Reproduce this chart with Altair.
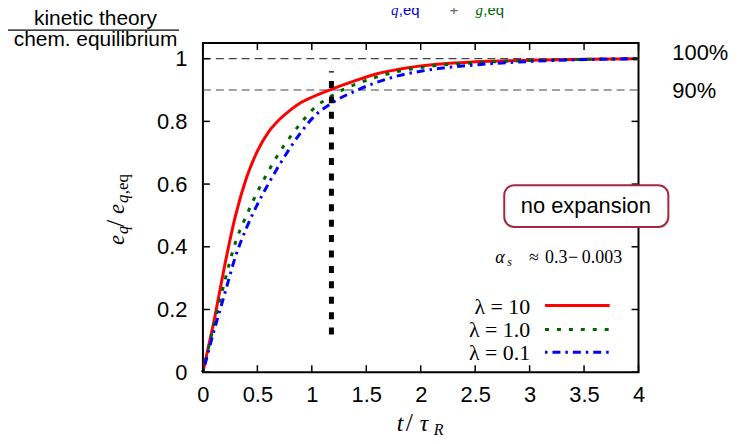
import altair as alt
import pandas as pd

# ---- data ----
t_vals = [0, 0.05, 0.1, 0.15, 0.2, 0.3, 0.4, 0.5, 0.6, 0.7, 0.8, 0.9, 1.0,
          1.2, 1.4, 1.6, 1.8, 2.0, 2.5, 3.0, 3.5, 4.0]
lam_10 = [0, 0.08, 0.16, 0.25, 0.34, 0.50, 0.62, 0.705, 0.765, 0.805, 0.835, 0.86, 0.877,
          0.905, 0.93, 0.952, 0.966, 0.977, 0.99, 0.995, 0.998, 1.0]
lam_1 = [0, 0.075, 0.15, 0.22, 0.29, 0.415, 0.50, 0.575, 0.64, 0.70, 0.75, 0.795, 0.835,
         0.885, 0.918, 0.942, 0.96, 0.972, 0.987, 0.994, 0.998, 1.0]
lam_01 = [0, 0.065, 0.13, 0.19, 0.25, 0.37, 0.46, 0.535, 0.60, 0.66, 0.715, 0.765, 0.808,
          0.862, 0.897, 0.925, 0.946, 0.96, 0.98, 0.991, 0.997, 1.0]

series_names = ["λ = 10", "λ = 1.0", "λ = 0.1"]
series_colors = ["#ff0000", "#006400", "#0000ff"]

ref_levels = [1.0, 0.9]
ref_labels = ["100%", "90%"]
marker_t = [1.18]
marker_lo = [0.12]
marker_hi = [0.96]

x_ticks = [0, 0.5, 1, 1.5, 2, 2.5, 3, 3.5, 4]
y_ticks = [0, 0.2, 0.4, 0.6, 0.8, 1.0]

W, H = 438, 331
xs = alt.Scale(domain=[0, 4], nice=False, zero=False)
ys = alt.Scale(domain=[0, 1.05], nice=False)
xax = alt.Axis(values=x_ticks, title=None, format="~g", labelPadding=12, labelFlush=False,
               labelOverlap=False, ticks=False, tickSize=0, domain=False, grid=False)
yax = alt.Axis(values=y_ticks, title=None, format="~g", labelPadding=16, labelOverlap=False,
               ticks=False, tickSize=0, domain=False, grid=False)

one = pd.DataFrame({"a": [0]})

SANS = "Liberation Sans"
SERIF = "Liberation Serif"


def txt(s, x, y, size=22, font=SANS, style="normal", align="left",
        baseline="alphabetic", color="black", angle=0):
    return alt.Chart(one).mark_text(
        text=s, fontSize=size, font=font, fontStyle=style, align=align,
        baseline=baseline, color=color, angle=angle
    ).encode(x=alt.value(x), y=alt.value(y))


layers = []

# reference dashed lines
ref_df = pd.DataFrame({"y": ref_levels})
layers.append(alt.Chart(ref_df).mark_rule(color="#444444", strokeWidth=1.2, strokeDash=[8, 5]).encode(
    y=alt.Y("y:Q", scale=ys, axis=yax), x=alt.value(0), x2=alt.value(W)))

# curves
dashes = [[1, 0], [4, 8], [2.5, 5, 8, 5]]
for name, vals, col, dash in zip(series_names, [lam_10, lam_1, lam_01], series_colors, dashes):
    df = pd.DataFrame({"t": t_vals, "v": vals})
    kw = dict(color=col, strokeWidth=3, interpolate="monotone")
    if dash != [1, 0]:
        kw["strokeDash"] = dash
    layers.append(alt.Chart(df).mark_line(**kw).encode(
        x=alt.X("t:Q", scale=xs, axis=xax), y=alt.Y("v:Q", scale=ys, axis=yax)))

# vertical black dotted marker
mk = pd.DataFrame({"t": marker_t, "lo": marker_lo, "hi": marker_hi})
layers.append(alt.Chart(mk).mark_rule(color="black", strokeWidth=5, strokeDash=[7, 8.5]).encode(
    x=alt.X("t:Q", scale=xs, axis=xax), y=alt.Y("lo:Q", scale=ys, axis=yax), y2="hi:Q"))

# inward ticks on all four sides
xt = pd.DataFrame({"v": x_ticks})
yt = pd.DataFrame({"v": y_ticks})
for y0, y1 in [(H, H - 7), (0, 7)]:
    layers.append(alt.Chart(xt).mark_rule(color="black", strokeWidth=1.5).encode(
        x=alt.X("v:Q", scale=xs, axis=xax), y=alt.value(y0), y2=alt.value(y1)))
for x0, x1 in [(0, 7), (W, W - 7)]:
    layers.append(alt.Chart(yt).mark_rule(color="black", strokeWidth=1.5).encode(
        y=alt.Y("v:Q", scale=ys, axis=yax), x=alt.value(x0), x2=alt.value(x1)))

# 100% / 90% labels
layers.append(txt(ref_labels[0], 472, 17))
layers.append(txt(ref_labels[1], 472, 55))

# "no expansion" box
layers.append(alt.Chart(one).mark_rect(cornerRadius=10, fill="white", stroke="#a3283c", strokeWidth=2).encode(
    x=alt.value(303), x2=alt.value(468), y=alt.value(143), y2=alt.value(185)))
layers.append(txt("no expansion", 385, 164, align="center", baseline="middle"))

# alpha_s annotation
layers.append(txt("α", 294, 221, size=18, font=SERIF, style="italic"))
layers.append(txt("s", 306, 224, size=12, font=SERIF, style="italic"))
layers.append(txt("≈", 328, 221, size=18, font=SERIF))
layers.append(txt("0.3", 344, 221, size=18, font=SERIF))
layers.append(txt("−", 367, 221, size=18, font=SERIF))
layers.append(txt("0.003", 381, 221, size=18, font=SERIF))

# legend
leg_y = [264, 288, 311]
for name, col, dash, ly in zip(series_names, series_colors, dashes, leg_y):
    layers.append(txt(name, 329, ly + 1, size=22, font=SERIF, align="right", baseline="middle"))
    kw = dict(color=col, strokeWidth=3)
    if dash != [1, 0]:
        kw["strokeDash"] = dash
    layers.append(alt.Chart(one).mark_rule(**kw).encode(
        x=alt.value(344), x2=alt.value(409), y=alt.value(ly)))

# y title e_q / e_{q,eq}
layers.append(txt("e", -79, 203, size=23, font=SERIF, style="italic", angle=270))
layers.append(txt("q", -75, 192, size=16, font=SERIF, style="italic", angle=270))
layers.append(txt("/", -79, 185, size=26, font=SERIF, angle=270))
layers.append(txt("e", -79, 172, size=23, font=SERIF, style="italic", angle=270))
layers.append(txt("q", -75, 161, size=17, font=SERIF, style="italic", angle=270))
layers.append(txt(",eq", -75, 152, size=17, font=SERIF, angle=270))

# x title t/tau_R
layers.append(txt("t", 195, 390, size=24, font=SERIF, style="italic"))
layers.append(txt("/", 204, 390, size=26, font=SERIF))
layers.append(txt("τ", 218, 390, size=24, font=SERIF, style="italic"))
layers.append(txt("R", 232, 394, size=16, font=SERIF, style="italic"))

# top-left fraction label
layers.append(txt("kinetic theory", -108, -18, size=21, align="center"))
layers.append(alt.Chart(one).mark_rule(color="black", strokeWidth=1.2).encode(
    x=alt.value(-201), x2=alt.value(-24), y=alt.value(-13)))
layers.append(txt("chem. equilibrium", -108, 3, size=21, align="center"))

# partly visible top title (cut off)
layers.append(txt("q", 189, -28, size=15, font=SERIF, style="italic", color="#0000cc"))
layers.append(txt(",eq", 197, -28, size=15, font=SANS, color="#0000cc"))
layers.append(txt("+", 248, -28, size=15, font=SANS, color="#666666"))
layers.append(txt("g", 274, -28, size=15, font=SERIF, style="italic", color="#006400"))
layers.append(txt(",eq", 282, -28, size=15, font=SANS, color="#006400"))

chart = alt.layer(*layers).properties(
    width=W, height=H,
    autosize=alt.AutoSizeParams(type="none"),
    padding={"left": 196, "top": 34, "right": 92, "bottom": 66},
).configure_view(stroke="black", strokeWidth=2).configure_axis(
    labelFont=SANS, labelFontSize=22, labelColor="black"
)

chart.save("out.html", embed_options={"renderer": "svg", "actions": False})
